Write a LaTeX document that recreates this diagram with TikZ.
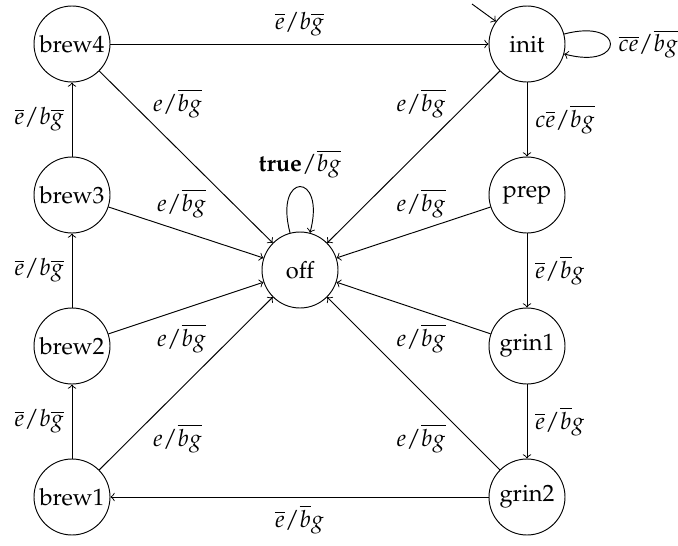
\documentclass[tikz,border=0pt]{standalone}
\usepackage[T1]{fontenc}
\usepackage{mathpazo}
\begin{document}
\begin{tikzpicture}[x=0.4237pt,y=0.4237pt,>=to,
  state/.style={circle,draw,minimum size=32.2pt,inner sep=0pt},
  lbl/.style={inner sep=3.33pt},
  selfloop/.style={min distance=27pt}]
\useasboundingbox (0,0) rectangle (678,545);
% states
\node[state] (brew4) at (72,501) {brew4};
\node[state] (init)  at (527,501) {init};
\node[state] (brew3) at (72,350) {brew3};
\node[state] (prep)  at (527,350) {prep};
\node[state] (off)   at (300,275) {off};
\node[state] (brew2) at (72,199) {brew2};
\node[state] (grin1) at (527,199) {grin1};
\node[state] (brew1) at (72,48) {brew1};
\node[state] (grin2) at (527,48) {grin2};
% initial arrow
\coordinate (start) at (472,541);
\draw[->] (start) -- (init);
% outer ring
\draw[->] (brew4) -- node[lbl,above] {$\overline{e}/b\overline{g}$} (init);
\draw[->] (init) to[loop right,selfloop] node[lbl,right] {$\overline{ce}/\overline{bg}$} (init);
\draw[->] (init) -- node[lbl,right] {$c\overline{e}/\overline{bg}$} (prep);
\draw[->] (prep) -- node[lbl,right] {$\overline{e}/\overline{b}g$} (grin1);
\draw[->] (grin1) -- node[lbl,right] {$\overline{e}/\overline{b}g$} (grin2);
\draw[->] (grin2) -- node[lbl,below] {$\overline{e}/\overline{b}g$} (brew1);
\draw[->] (brew1) -- node[lbl,left] {$\overline{e}/b\overline{g}$} (brew2);
\draw[->] (brew2) -- node[lbl,left] {$\overline{e}/b\overline{g}$} (brew3);
\draw[->] (brew3) -- node[lbl,left] {$\overline{e}/b\overline{g}$} (brew4);
% off
\draw[->] (off) to[loop above,selfloop] node[lbl,above] {$\textbf{true}/\overline{bg}$} (off);
\draw[->] (brew4) -- (off);
\draw[->] (init) -- (off);
\draw[->] (brew3) -- (off);
\draw[->] (prep) -- (off);
\draw[->] (brew2) -- (off);
\draw[->] (grin1) -- (off);
\draw[->] (brew1) -- (off);
\draw[->] (grin2) -- (off);
% labels of the edges into off
\node[lbl] (lbrew4) at (177.5,441.5) {$e/\overline{bg}$};
\node[lbl] (linit)  at (421,441.5) {$e/\overline{bg}$};
\node[lbl] (lbrew3) at (181.5,341.5) {$e/\overline{bg}$};
\node[lbl] (lprep)  at (421,341.5) {$e/\overline{bg}$};
\node[lbl] (lbrew2) at (181.5,206.5) {$e/\overline{bg}$};
\node[lbl] (lgrin1) at (421,206.5) {$e/\overline{bg}$};
\node[lbl] (lbrew1) at (177.5,106.5) {$e/\overline{bg}$};
\node[lbl] (lgrin2) at (421,106.5) {$e/\overline{bg}$};
\end{tikzpicture}
\end{document}
